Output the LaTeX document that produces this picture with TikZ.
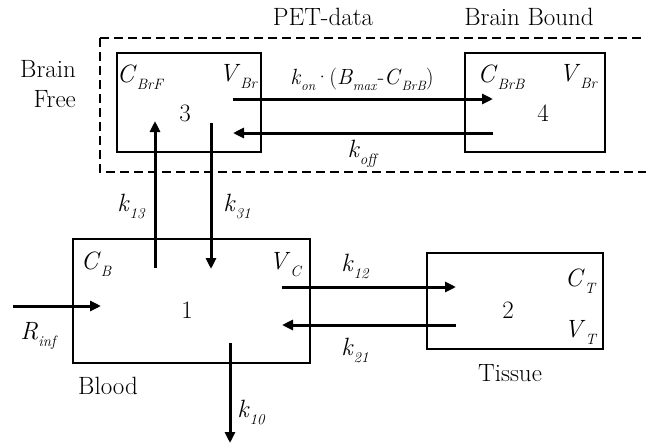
\documentclass[tikz,border=0pt]{standalone}
\usepackage{fontspec}
\usetikzlibrary{arrows.meta}
\newcommand{\vr}[2]{\textit{#1}\raisebox{-7pt}{\fontsize{15}{17}\selectfont\itshape #2}}
\newcommand{\vrs}[2]{\textit{#1}\raisebox{-6pt}{\fontsize{13.5}{15}\selectfont\itshape #2}}
\begin{document}
\begin{tikzpicture}[x=1pt,y=-1pt,
  box/.style={draw,line width=1.8pt,minimum width=#1,inner sep=0pt},
  flow/.style={line width=3pt,-{Triangle[length=11pt,width=10pt]}},
  txt/.style={font=\fontsize{25}{29}\selectfont,inner sep=0pt},
  lab/.style={font=\fontsize{25}{29}\selectfont,inner sep=0pt}]
\useasboundingbox (0,0) rectangle (646,445);
\fill[white] (0,0) rectangle (646,445);
% dashed region
\draw[line width=2.6pt,dash pattern=on 9pt off 5pt] (100,38) -- (660,38) (100,38) -- (100,172) -- (660,172);
% boxes
\node[box=144pt,minimum height=99pt] (b3) at (189,102.5) {};
\node[box=140pt,minimum height=99pt] (b4) at (535,102.5) {};
\node[box=237pt,minimum height=124pt] (b1) at (191.5,301) {};
\node[box=176pt,minimum height=96pt] (b2) at (515,301) {};
% numbers
\node[txt] (n3) at (185,113) {3};
\node[txt] (n4) at (543,113) {4};
\node[txt] (n1) at (187,310) {1};
\node[txt] (n2) at (508,310) {2};
% compartment labels
\node[lab] (cbrf) at (140,77) {\vr{C}{BrF}};
\node[lab] (vbr3) at (238,77) {\vr{V}{Br}};
\node[lab] (cbrb) at (501,77) {\vr{C}{BrB}};
\node[lab] (vbr4) at (578,77) {\vr{V}{Br}};
\node[lab] (cb) at (96,264) {\vr{C}{B}};
\node[lab] (vc) at (285,265) {\vr{V}{C}};
\node[lab] (ct) at (580,281) {\vr{C}{T}};
\node[lab] (vt) at (580,332) {\vr{V}{T}};
% text labels
\node[txt] (pet) at (323,17) {PET-data};
\node[txt] (bb) at (529,17) {Brain Bound};
\node[txt,align=right] (bf) at (48,84) {Brain\\[1pt]Free};
\node[txt] (blood) at (108,386) {Blood};
\node[txt] (tissue) at (510,373) {Tissue};
% arrows coordinates
\coordinate (a34s) at (233,99);  \coordinate (a34e) at (493,99);
\coordinate (a43s) at (493,133); \coordinate (a43e) at (233,133);
\coordinate (a13s) at (155,268); \coordinate (a13e) at (155,121);
\coordinate (a31s) at (211,123); \coordinate (a31e) at (211,269);
\coordinate (a12s) at (282,287); \coordinate (a12e) at (456,287);
\coordinate (a21s) at (456,325); \coordinate (a21e) at (282,325);
\coordinate (ris) at (13,306);   \coordinate (rie) at (101,306);
\coordinate (k10s) at (230,343); \coordinate (k10e) at (230,443);
\draw[flow] (a34s) -- (a34e);
\draw[flow] (a43s) -- (a43e);
\draw[flow] (a13s) -- (a13e);
\draw[flow] (a31s) -- (a31e);
\draw[flow] (a12s) -- (a12e);
\draw[flow] (a21s) -- (a21e);
\draw[flow] (ris) -- (rie);
\draw[flow] (k10s) -- (k10e);
% rate labels
\node[lab,font=\fontsize{22}{26}\selectfont] (kon) at (362,79) {\vrs{k}{on}\kern-1pt·\kern-1pt(\vrs{B}{max}\kern1pt-\vrs{C}{BrB})};
\node[lab] (koff) at (362,154) {\vr{k}{off}};
\node[lab] (k13) at (131,206) {\vr{k}{13}};
\node[lab] (k31) at (237,206) {\vr{k}{31}};
\node[lab] (k12) at (355,266) {\vr{k}{12}};
\node[lab] (k21) at (355,350) {\vr{k}{21}};
\node[lab] (rinf) at (38,336) {\vr{R}{inf}};
\node[lab] (k10) at (251,412) {\vr{k}{10}};
\end{tikzpicture}
\end{document}
